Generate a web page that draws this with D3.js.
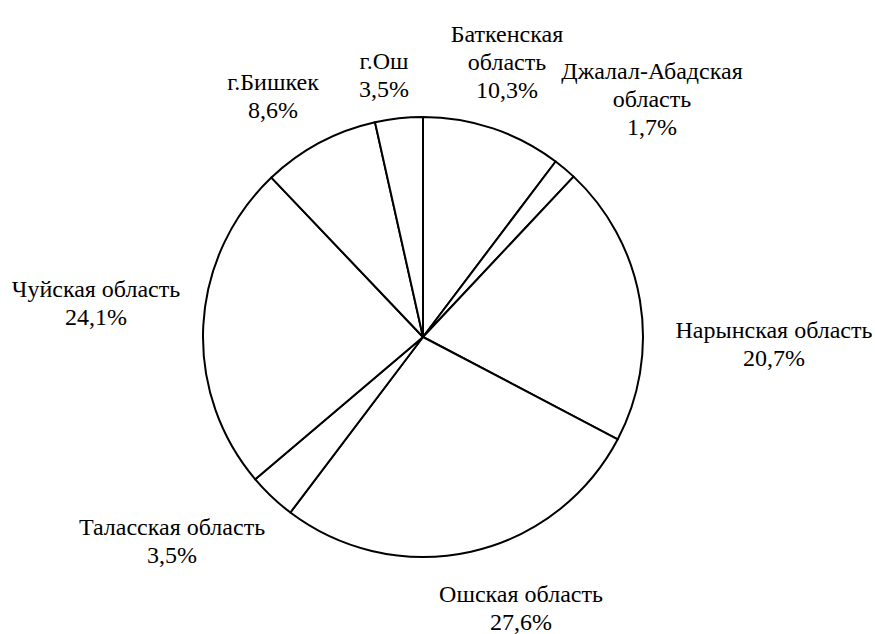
<!DOCTYPE html>
<html>
<head>
<meta charset="utf-8">
<script src="https://cdn.jsdelivr.net/npm/d3@7"></script>
</head>
<body style="margin:0">
<div id="chart"></div>
<script>
var width = 875, height = 634;

// regions, clockwise from 12 o'clock
var regions = ["Баткенская область", "Джалал-Абадская область", "Нарынская область", "Ошская область",
  "Таласская область", "Чуйская область", "г.Бишкек", "г.Ош"];
var shares = [10.3, 1.7, 20.7, 27.6, 3.5, 24.1, 8.6, 3.5];

// label text lines (as wrapped in the original)
var labelLines = [
  ["Баткенская", "область"],
  ["Джалал-Абадская", "область"],
  ["Нарынская область"],
  ["Ошская область"],
  ["Таласская область"],
  ["Чуйская область"],
  ["г.Бишкек"],
  ["г.Ош"]
];

// where each label block sits: centre x, first baseline y
var labelAnchor = [[507, 42], [652, 79], [774, 338], [521, 602], [172, 535], [96, 297], [273, 90], [384, 69]];

var cx = 423, cy = 337, radius = 220, lineGap = 28;

var svg = d3.select("#chart")
  .append("svg")
  .attr("width", width)
  .attr("height", height);

var data = regions.map(function(name, i) { return { name: name, value: shares[i], i: i }; });

var pie = d3.pie()
  .sort(null)
  .value(function(d) { return d.value; });

var arc = d3.arc()
  .innerRadius(0)
  .outerRadius(radius);

var g = svg.append("g")
  .attr("transform", "translate(" + cx + "," + cy + ")");

g.selectAll("path")
  .data(pie(data))
  .enter().append("path")
  .attr("d", arc)
  .attr("fill", "#fff")
  .attr("stroke", "#000")
  .attr("stroke-width", 2)
  .attr("stroke-linejoin", "round");

// one <text> per label line
var lineData = [];
data.forEach(function(d) {
  var lines = labelLines[d.i].concat([d3.format(".1f")(d.value).replace(".", ",") + "%"]);
  lines.forEach(function(line, k) {
    lineData.push({ text: line, x: labelAnchor[d.i][0], y: labelAnchor[d.i][1] + k * lineGap });
  });
});

svg.append("g")
  .selectAll("text")
  .data(lineData)
  .enter().append("text")
  .attr("x", function(d) { return d.x; })
  .attr("y", function(d) { return d.y; })
  .attr("font-size", 24)
  .style("font-family", "'Times New Roman'")
  .attr("text-anchor", "middle")
  .text(function(d) { return d.text; });
</script>
</body>
</html>
